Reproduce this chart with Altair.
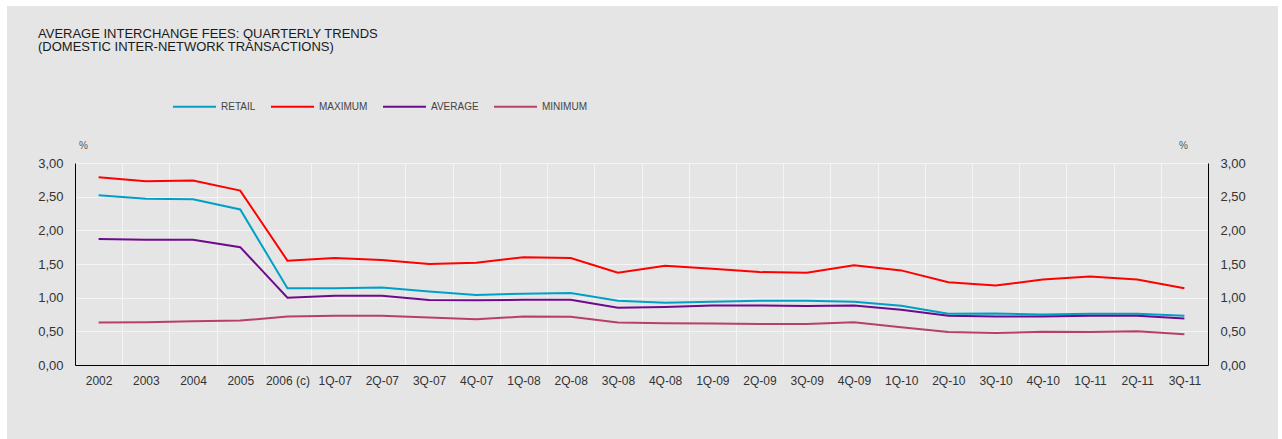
import altair as alt
import pandas as pd

# Periods on the horizontal axis
periods = ["2002", "2003", "2004", "2005", "2006 (c)",
           "1Q-07", "2Q-07", "3Q-07", "4Q-07",
           "1Q-08", "2Q-08", "3Q-08", "4Q-08",
           "1Q-09", "2Q-09", "3Q-09", "4Q-09",
           "1Q-10", "2Q-10", "3Q-10", "4Q-10",
           "1Q-11", "2Q-11", "3Q-11"]

# Interchange fee levels, in %
retail = [2.52, 2.47, 2.46, 2.31, 1.14, 1.14, 1.15, 1.09, 1.04, 1.06, 1.07, 0.955,
          0.925, 0.94, 0.955, 0.955, 0.94, 0.88, 0.76, 0.765, 0.75, 0.76, 0.76, 0.73]
maximum = [2.79, 2.73, 2.74, 2.59, 1.55, 1.59, 1.56, 1.50, 1.52, 1.60, 1.59, 1.37,
           1.475, 1.43, 1.38, 1.37, 1.48, 1.405, 1.23, 1.18, 1.27, 1.315, 1.27, 1.14]
average = [1.87, 1.86, 1.86, 1.75, 1.00, 1.03, 1.03, 0.965, 0.96, 0.97, 0.97, 0.85,
           0.86, 0.885, 0.885, 0.875, 0.885, 0.82, 0.73, 0.72, 0.72, 0.73, 0.73, 0.69]
minimum = [0.63, 0.635, 0.65, 0.66, 0.72, 0.73, 0.73, 0.705, 0.68, 0.72, 0.715, 0.63,
           0.62, 0.615, 0.61, 0.61, 0.635, 0.56, 0.49, 0.475, 0.495, 0.49, 0.50, 0.455]

series_names = ["RETAIL", "MAXIMUM", "AVERAGE", "MINIMUM"]
series_colors = ["#00A0C6", "#FF0000", "#6E0A8C", "#B93F6B"]
y_ticks = [0, 0.5, 1.0, 1.5, 2.0, 2.5, 3.0]
title_lines = ["AVERAGE INTERCHANGE FEES: QUARTERLY TRENDS",
               "(DOMESTIC INTER-NETWORK TRANSACTIONS)"]

rows = []
for name, values in zip(series_names, [retail, maximum, average, minimum]):
    for i, (p, v) in enumerate(zip(periods, values)):
        rows.append({"period": p, "series": name, "value": v, "order": i})
df = pd.DataFrame(rows)

W, H = 1133, 202
FONT = "Liberation Sans"
GREY = "#E5E5E5"
label_expr = "replace(format(datum.value, '.2f'), '.', ',')"

x_enc = alt.X(
    "period:N", sort=periods, bandPosition=0.5,
    scale=alt.Scale(type="band", paddingInner=0, paddingOuter=0),
    axis=alt.Axis(title=None, tickBand="extent", ticks=False, grid=True,
                  gridColor="#F4F4F4", gridWidth=1, domainColor="#000000",
                  labelPadding=10, labelFontSize=12, labelColor="#333333",
                  labelAngle=0, labelFont=FONT),
)
y_scale = alt.Scale(domain=[0, 3], nice=False)

lines = alt.Chart(df).mark_line(strokeWidth=2).encode(
    x=x_enc,
    y=alt.Y("value:Q", scale=y_scale,
            axis=alt.Axis(orient="left", values=y_ticks, labelExpr=label_expr,
                          ticks=False, grid=True, gridColor="#F4F4F4", gridWidth=1,
                          domainColor="#000000", labelPadding=12, labelFontSize=13,
                          labelColor="#333333", labelFont=FONT,
                          title="%", titleAngle=0, titleX=8, titleY=-18,
                          titleFontSize=10, titleFontWeight="normal",
                          titleColor="#555555", titleFont=FONT,
                          titleAlign="center", titleBaseline="middle")),
    color=alt.Color("series:N", sort=series_names,
                    scale=alt.Scale(domain=series_names, range=series_colors),
                    legend=alt.Legend(title=None, orient="none", direction="horizontal",
                                      legendX=97, legendY=-79, symbolType="stroke",
                                      symbolSize=1849, symbolStrokeWidth=2,
                                      labelFontSize=10, labelColor="#444444",
                                      labelFont=FONT, labelOffset=4,
                                      columnPadding=11)),
    order="order:Q",
)

# Same scale mirrored on the right-hand side
right_axis = alt.Chart(df).mark_line(opacity=0).encode(
    x=x_enc,
    y=alt.Y("value:Q", scale=y_scale,
            axis=alt.Axis(orient="right", values=y_ticks, labelExpr=label_expr,
                          ticks=False, grid=False, domainColor="#000000",
                          labelPadding=12, labelFontSize=13, labelColor="#333333",
                          labelFont=FONT, title="%", titleAngle=0, titleX=-25,
                          titleY=-18, titleFontSize=10, titleFontWeight="normal",
                          titleColor="#555555", titleFont=FONT,
                          titleAlign="center", titleBaseline="middle")),
    detail="series:N",
    order="order:Q",
)

one = pd.DataFrame({"k": [0]})

# Two-line heading, top left of the panel
title_1 = alt.Chart(one).mark_text(
    text=title_lines[0], align="left", baseline="alphabetic", font=FONT,
    fontSize=13, color="#1A1A1A").encode(x=alt.value(-37), y=alt.value(-125))
title_2 = alt.Chart(one).mark_text(
    text=title_lines[1], align="left", baseline="alphabetic", font=FONT,
    fontSize=13, color="#1A1A1A").encode(x=alt.value(-37), y=alt.value(-112))

# Thin white frame around the grey panel
frame_left = alt.Chart(one).mark_rect(color="white").encode(
    x=alt.value(-80), x2=alt.value(-68), y=alt.value(-170), y2=alt.value(H + 80))
frame_top = alt.Chart(one).mark_rect(color="white").encode(
    x=alt.value(-80), x2=alt.value(W + 80), y=alt.value(-170), y2=alt.value(-157))
frame_right = alt.Chart(one).mark_rect(color="white").encode(
    x=alt.value(W + 70), x2=alt.value(W + 80), y=alt.value(-170), y2=alt.value(H + 80))

chart = alt.layer(
    frame_left, frame_top, frame_right, title_1, title_2, lines, right_axis
).resolve_scale(
    y="shared"
).resolve_axis(
    y="independent"
).properties(
    width=W, height=H,
    padding={"left": 75, "top": 163, "right": 74, "bottom": 74},
    autosize=alt.AutoSizeParams(type="none"),
    background=GREY,
).configure_view(stroke=None, fill=GREY)

chart.save("out.html", embed_options={"renderer": "svg", "actions": False})
